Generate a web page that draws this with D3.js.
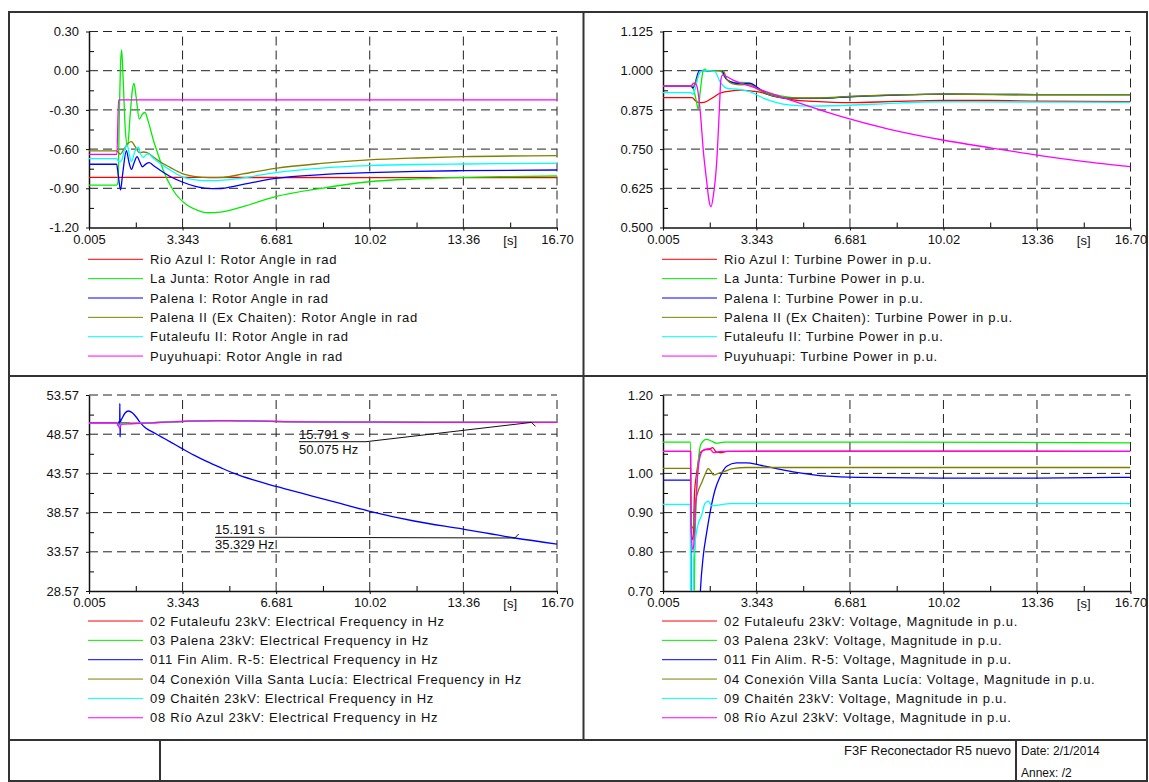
<!DOCTYPE html>
<html><head><meta charset="utf-8">
<script src="https://cdnjs.cloudflare.com/ajax/libs/d3/7.8.5/d3.min.js"></script>
<style>
body{margin:0;background:#fff;}
svg text{font-family:"Liberation Sans",Arial,sans-serif;fill:#111;}
</style></head><body>
<svg id="c" width="1149" height="782"></svg>
<script>
// ---------- DATA ----------
const timeTicks = [0.005, 3.343, 6.681, 10.02, 13.36, 16.70];
const timeLabels = ["0.005", "3.343", "6.681", "10.02", "13.36", "16.70"];

const angleTicks = [0.30, 0.00, -0.30, -0.60, -0.90, -1.20];
const angleLabels = ["0.30", "0.00", "-0.30", "-0.60", "-0.90", "-1.20"];
const powerTicks = [1.125, 1.000, 0.875, 0.750, 0.625, 0.500];
const powerLabels = ["1.125", "1.000", "0.875", "0.750", "0.625", "0.500"];
const freqTicks = [53.57, 48.57, 43.57, 38.57, 33.57, 28.57];
const freqLabels = ["53.57", "48.57", "43.57", "38.57", "33.57", "28.57"];
const voltTicks = [1.20, 1.10, 1.00, 0.90, 0.80, 0.70];
const voltLabels = ["1.20", "1.10", "1.00", "0.90", "0.80", "0.70"];

const seriesColors = ["#ff0000", "#00ee00", "#0000ff", "#808000", "#00ffff", "#ff00ff"];

const angleNames = ["Rio Azul I: Rotor Angle in rad", "La Junta: Rotor Angle in rad", "Palena I: Rotor Angle in rad",
  "Palena II (Ex Chaiten): Rotor Angle in rad", "Futaleufu II: Rotor Angle in rad", "Puyuhuapi: Rotor Angle in rad"];
const powerNames = ["Rio Azul I: Turbine Power in p.u.", "La Junta: Turbine Power in p.u.", "Palena I: Turbine Power in p.u.",
  "Palena II (Ex Chaiten): Turbine Power in p.u.", "Futaleufu II: Turbine Power in p.u.", "Puyuhuapi: Turbine Power in p.u."];
const freqNames = ["02 Futaleufu 23kV: Electrical Frequency in Hz", "03 Palena 23kV: Electrical Frequency in Hz",
  "011 Fin Alim. R-5: Electrical Frequency in Hz", "04 Conexión Villa Santa Lucía: Electrical Frequency in Hz",
  "09 Chaitén 23kV: Electrical Frequency in Hz", "08 Río Azul 23kV: Electrical Frequency in Hz"];
const voltNames = ["02 Futaleufu 23kV: Voltage, Magnitude in p.u.", "03 Palena 23kV: Voltage, Magnitude in p.u.",
  "011 Fin Alim. R-5: Voltage, Magnitude in p.u.", "04 Conexión Villa Santa Lucía: Voltage, Magnitude in p.u.",
  "09 Chaitén 23kV: Voltage, Magnitude in p.u.", "08 Río Azul 23kV: Voltage, Magnitude in p.u."];

// Rotor angle [s, rad]
const angRioAzul = [[0.005,-0.816],[1.0,-0.816],[4.0,-0.817],[16.70,-0.818]];
const angLaJunta = [[0.005,-0.875],[0.99,-0.875],[1.04,-0.85],[1.09,-0.3],[1.13,0.05],[1.17,0.16],[1.22,-0.05],[1.30,-0.45],[1.38,-0.58],[1.47,-0.35],[1.55,-0.15],[1.61,-0.097],[1.68,-0.19],[1.80,-0.37],[1.92,-0.33],[2.0,-0.32],[2.12,-0.39],[2.3,-0.53],[2.5,-0.66],[2.65,-0.76],[3.0,-0.913],[3.5,-1.028],[3.9,-1.07],[4.25,-1.087],[4.7,-1.083],[5.5,-1.04],[6.66,-0.964],[8.3,-0.9],[9.99,-0.85],[11.7,-0.828],[13.35,-0.816],[15.0,-0.81],[16.70,-0.806]];
const angPalenaI = [[0.005,-0.716],[0.99,-0.716],[1.05,-0.8],[1.13,-0.913],[1.2,-0.8],[1.34,-0.612],[1.43,-0.7],[1.52,-0.755],[1.62,-0.7],[1.72,-0.658],[1.82,-0.7],[1.91,-0.735],[2.03,-0.715],[2.15,-0.704],[2.3,-0.725],[2.53,-0.76],[2.9,-0.81],[3.31,-0.85],[3.8,-0.885],[4.2,-0.90],[4.6,-0.902],[5.5,-0.87],[6.66,-0.824],[8.3,-0.795],[9.99,-0.78],[11.7,-0.77],[13.35,-0.765],[16.70,-0.76]];
const angPalenaII = [[0.005,-0.614],[0.99,-0.614],[1.05,-0.625],[1.12,-0.64],[1.25,-0.6],[1.4,-0.555],[1.52,-0.543],[1.65,-0.58],[1.8,-0.627],[1.95,-0.622],[2.07,-0.627],[2.3,-0.66],[2.53,-0.696],[2.9,-0.74],[3.31,-0.785],[3.8,-0.81],[4.3,-0.818],[4.8,-0.816],[5.5,-0.79],[6.66,-0.747],[8.3,-0.71],[9.99,-0.683],[11.7,-0.668],[13.35,-0.658],[16.70,-0.65]];
const angFutaleufu = [[0.005,-0.673],[0.99,-0.673],[1.08,-0.7],[1.18,-0.68],[1.28,-0.6],[1.37,-0.569],[1.45,-0.65],[1.52,-0.696],[1.64,-0.62],[1.76,-0.586],[1.85,-0.64],[1.94,-0.663],[2.03,-0.645],[2.12,-0.637],[2.3,-0.67],[2.53,-0.709],[2.9,-0.76],[3.31,-0.811],[3.8,-0.835],[4.3,-0.842],[4.8,-0.838],[5.5,-0.82],[6.66,-0.78],[8.3,-0.745],[9.99,-0.727],[11.7,-0.718],[13.35,-0.714],[16.70,-0.709]];
const angPuyuhuapi = [[0.005,-0.64],[1.0,-0.64],[1.06,-0.224],[16.70,-0.224]];

// Turbine power [s, p.u.]
const powRioAzul = [[0.005,0.914],[1.05,0.914],[1.15,0.905],[1.3,0.898],[1.5,0.9],[1.75,0.912],[2.04,0.928],[2.4,0.935],[2.75,0.938],[3.35,0.933],[4.0,0.92],[4.66,0.907],[5.4,0.902],[6.66,0.898],[8.3,0.902],[9.99,0.905],[11.7,0.905],[13.35,0.903],[16.70,0.901]];
const powLaJunta = [[0.005,0.951],[1.0,0.951],[1.1,0.94],[1.2,0.9],[1.26,0.877],[1.33,0.93],[1.44,1.0],[1.5,1.005],[1.58,0.998],[1.8,1.0],[2.05,1.0],[2.2,0.981],[2.4,0.965],[2.6,0.962],[2.9,0.963],[3.1,0.96],[3.3,0.95],[3.7,0.93],[4.2,0.92],[4.94,0.912],[5.5,0.913],[6.66,0.917],[8.3,0.922],[9.99,0.925],[13.35,0.923],[16.70,0.923]];
const powPalenaI = [[0.005,0.951],[1.0,0.951],[1.08,0.945],[1.15,0.96],[1.3,1.0],[2.1,1.0],[2.25,0.975],[2.4,0.965],[2.75,0.958],[3.1,0.96],[3.4,0.945],[3.7,0.926],[4.5,0.912],[5.7,0.912],[6.66,0.917],[8.3,0.922],[9.99,0.925],[13.35,0.924],[16.70,0.924]];
const powPalenaII = [[0.005,0.951],[1.0,0.951],[1.1,0.95],[1.2,0.97],[1.35,0.998],[1.5,1.0],[2.15,1.0],[2.3,0.97],[2.5,0.958],[2.8,0.955],[3.1,0.956],[3.4,0.94],[3.8,0.923],[4.5,0.913],[5.7,0.913],[6.66,0.918],[8.3,0.923],[9.99,0.925],[13.35,0.924],[16.70,0.924]];
const powFutaleufu = [[0.005,0.93],[1.0,0.93],[1.08,0.925],[1.15,0.94],[1.33,0.997],[1.56,1.0],[1.86,0.997],[2.04,0.965],[2.28,0.944],[2.75,0.94],[3.1,0.933],[3.6,0.912],[4.5,0.891],[5.36,0.887],[7.5,0.893],[9.99,0.901],[13.35,0.9],[16.70,0.899]];
const powPuyuhuapi = [[0.005,0.951],[1.0,0.951],[1.1,0.96],[1.2,0.955],[1.33,0.875],[1.45,0.74],[1.56,0.651],[1.66,0.58],[1.72,0.566],[1.8,0.6],[1.92,0.705],[2.02,0.88],[2.07,0.97],[2.13,0.986],[2.51,0.97],[3.34,0.944],[4.53,0.907],[6.32,0.855],[8.1,0.813],[9.99,0.779],[11.7,0.754],[13.35,0.731],[15.0,0.711],[16.70,0.694]];

// Electrical frequency [s, Hz]
const frqFutaleufu = [[0.005,50.03],[1.0,50.03],[1.08,49.85],[1.14,50.05],[1.5,49.95],[2.0,50.0],[3.0,50.15],[4.0,50.27],[5.0,50.3],[6.0,50.25],[7.0,50.18],[9.0,50.12],[12.0,50.09],[15.79,50.075],[16.70,50.07]];
const frqPalena = [[0.005,50.03],[1.0,50.03],[1.08,49.8],[1.14,50.05],[1.5,49.95],[2.0,50.0],[3.0,50.15],[4.0,50.27],[5.0,50.3],[6.0,50.25],[7.0,50.18],[9.0,50.12],[12.0,50.09],[15.79,50.075],[16.70,50.07]];
const frqFinAlim = [[0.005,50.03],[1.0,50.03],[1.04,49.7],[1.08,50.2],[1.10,50.1],[1.105,52.5],[1.115,48.2],[1.125,50.1],[1.2,50.7],[1.3,51.3],[1.41,51.53],[1.55,51.3],[1.68,50.8],[1.82,50.1],[1.95,49.6],[2.04,49.32],[2.3,48.8],[2.6,48.2],[2.95,47.5],[3.31,46.77],[3.75,45.9],[4.2,45.1],[4.7,44.3],[5.18,43.57],[5.9,42.7],[6.68,41.9],[7.9,40.75],[9.0,39.7],[9.99,38.77],[11.6,37.5],[13.35,36.47],[15.19,35.33],[16.70,34.56]];
const frqConexion = [[0.005,50.03],[1.0,50.03],[1.08,49.75],[1.14,50.05],[1.5,49.95],[2.0,50.0],[3.0,50.15],[4.0,50.27],[5.0,50.3],[6.0,50.25],[7.0,50.18],[9.0,50.12],[12.0,50.09],[15.79,50.075],[16.70,50.07]];
const frqChaiten = [[0.005,50.03],[1.0,50.03],[1.09,49.6],[1.15,49.9],[1.5,49.92],[2.0,50.0],[3.0,50.15],[4.0,50.27],[5.0,50.3],[6.0,50.25],[7.0,50.18],[9.0,50.12],[12.0,50.09],[15.79,50.075],[16.70,50.07]];
const frqRioAzul = [[0.005,50.03],[1.0,50.03],[1.1,49.3],[1.16,49.85],[1.5,49.9],[2.0,49.98],[3.0,50.15],[4.0,50.27],[5.0,50.3],[6.0,50.25],[7.0,50.18],[9.0,50.12],[12.0,50.09],[15.79,50.075],[16.70,50.07]];

// Voltage magnitude [s, p.u.]
const vltFutaleufu = [[0.005,1.056],[0.99,1.056],[1.0,0.86],[1.08,0.83],[1.13,0.95],[1.21,1.002],[1.33,1.053],[1.5,1.06],[1.65,1.061],[1.78,1.066],[1.9,1.055],[2.05,1.053],[2.3,1.056],[5.0,1.057],[16.70,1.056]];
const vltPalena = [[0.005,1.08],[0.99,1.08],[1.0,0.6],[1.1,0.6],[1.14,0.8],[1.2,0.95],[1.28,1.04],[1.36,1.075],[1.56,1.087],[1.75,1.082],[1.92,1.077],[2.2,1.08],[8.0,1.08],[16.70,1.078]];
const vltFinAlim = [[0.005,0.983],[0.99,0.983],[1.0,0.6],[1.28,0.6],[1.34,0.70],[1.44,0.788],[1.56,0.847],[1.68,0.898],[1.86,0.957],[2.04,0.991],[2.28,1.018],[2.63,1.027],[2.99,1.027],[3.46,1.021],[4.65,1.004],[5.84,0.993],[7.03,0.99],[9.99,0.988],[13.35,0.988],[16.70,0.99]];
const vltConexion = [[0.005,1.013],[0.99,1.013],[1.0,0.87],[1.08,0.86],[1.12,0.90],[1.18,0.932],[1.27,0.957],[1.39,0.977],[1.5,0.996],[1.62,1.012],[1.72,1.005],[1.8,0.996],[1.98,1.0],[2.2,1.005],[2.5,1.012],[3.0,1.015],[16.70,1.015]];
const vltChaiten = [[0.005,0.921],[0.98,0.921],[0.99,0.6],[1.09,0.6],[1.1,0.78],[1.2,0.85],[1.27,0.873],[1.39,0.894],[1.5,0.923],[1.63,0.929],[1.74,0.917],[1.98,0.919],[2.4,0.923],[16.70,0.923]];
const vltRioAzul = [[0.005,1.056],[0.99,1.056],[1.0,0.87],[1.08,0.804],[1.17,0.915],[1.27,1.017],[1.39,1.055],[1.5,1.061],[1.66,1.063],[1.82,1.053],[2.05,1.056],[16.70,1.056]];

// Cursor annotations (time s, value)
const annTimes = [15.791, 15.191];
const annValues = [50.075, 35.329];
const annLabels = [["15.791 s", "50.075 Hz"], ["15.191 s", "35.329 Hz"]];

const footerTitle = "F3F Reconectador R5 nuevo";
const footerDate = "Date: 2/1/2014";
const footerAnnex = "Annex:  /2";

// ---------- LAYOUT ----------
const svg = d3.select("#c");
const panels = [
  {x0:89, x1:557, y0:31.5, y1:227.5, legY:259.3, dom:[-1.20,0.30], ticks:angleTicks, labels:angleLabels, series:[angRioAzul,angLaJunta,angPalenaI,angPalenaII,angFutaleufu,angPuyuhuapi], names:angleNames},
  {x0:663, x1:1130.5, y0:31.5, y1:227.5, legY:259.3, dom:[0.500,1.125], ticks:powerTicks, labels:powerLabels, series:[powRioAzul,powLaJunta,powPalenaI,powPalenaII,powFutaleufu,powPuyuhuapi], names:powerNames},
  {x0:89, x1:557, y0:395, y1:591, legY:621, dom:[28.57,53.57], ticks:freqTicks, labels:freqLabels, series:[frqFutaleufu,frqPalena,frqFinAlim,frqConexion,frqChaiten,frqRioAzul], names:freqNames, ann:true},
  {x0:663, x1:1130.5, y0:395, y1:591, legY:621, dom:[0.70,1.20], ticks:voltTicks, labels:voltLabels, series:[vltFutaleufu,vltPalena,vltFinAlim,vltConexion,vltChaiten,vltRioAzul], names:voltNames}
];

// frame
const frame = svg.append("g").attr("stroke","#333").attr("stroke-width",2).attr("fill","none");
frame.append("rect").attr("x",9).attr("y",12).attr("width",1138).attr("height",769);
frame.append("line").attr("x1",583.5).attr("x2",583.5).attr("y1",12).attr("y2",740);
frame.append("line").attr("x1",9).attr("x2",1147).attr("y1",376).attr("y2",376);
frame.append("line").attr("x1",9).attr("x2",1147).attr("y1",740).attr("y2",740);
frame.append("line").attr("x1",160).attr("x2",160).attr("y1",740).attr("y2",781);
frame.append("line").attr("x1",1016).attr("x2",1016).attr("y1",740).attr("y2",781);

svg.append("text").attr("x",1011).attr("y",755).attr("text-anchor","end").attr("font-size",13).text(footerTitle);
svg.append("text").attr("x",1021).attr("y",755).attr("font-size",12).text(footerDate);
svg.append("text").attr("x",1021).attr("y",777).attr("font-size",12).text(footerAnnex);

panels.forEach((p, pi) => {
  const x = d3.scaleLinear().domain([timeTicks[0], timeTicks[timeTicks.length-1]]).range([p.x0, p.x1]);
  const y = d3.scaleLinear().domain(p.dom).range([p.y1, p.y0]);
  const g = svg.append("g");
  const cid = "clip" + pi;
  g.append("clipPath").attr("id", cid).append("rect")
    .attr("x", p.x0).attr("y", p.y0).attr("width", p.x1 - p.x0).attr("height", p.y1 - p.y0);

  // dashed grid
  const grid = g.append("g").attr("stroke","#222").attr("stroke-width",1).attr("stroke-dasharray","9,5");
  timeTicks.slice(1).forEach(t => grid.append("line").attr("x1",x(t)).attr("x2",x(t)).attr("y1",p.y1).attr("y2",p.y0));
  p.ticks.forEach(v => { if (v !== p.dom[0]) grid.append("line").attr("x1",p.x0).attr("x2",p.x1).attr("y1",y(v)).attr("y2",y(v)); });

  // minor ticks
  const xMinor = d3.pairs(timeTicks).map(d => (d[0]+d[1])/2);
  const yMinor = d3.pairs(p.ticks).map(d => (d[0]+d[1])/2);
  g.append("g").attr("transform",`translate(0,${p.y1})`)
    .call(d3.axisBottom(x).tickValues(xMinor).tickSize(-5).tickFormat(""))
    .call(a => a.select(".domain").remove());
  g.append("g").attr("transform",`translate(${p.x0},0)`)
    .call(d3.axisLeft(y).tickValues(yMinor).tickSize(-5).tickFormat(""))
    .call(a => a.select(".domain").remove());

  // axes
  const xa = g.append("g").attr("transform",`translate(0,${p.y1})`)
    .call(d3.axisBottom(x).tickValues(timeTicks).tickSize(3).tickPadding(4).tickSizeOuter(0)
      .tickFormat((d,i) => timeLabels[i]));
  const ya = g.append("g").attr("transform",`translate(${p.x0},0)`)
    .call(d3.axisLeft(y).tickValues(p.ticks).tickSize(3).tickPadding(7).tickSizeOuter(0)
      .tickFormat((d,i) => p.labels[i]));
  [xa, ya].forEach(a => {
    a.selectAll("text").attr("font-size",13).attr("font-family","Liberation Sans, Arial, sans-serif").attr("fill","#111");
    a.selectAll("line").attr("stroke","#111");
    a.select(".domain").attr("stroke","#111").attr("stroke-width",1.5);
  });
  g.append("text").attr("x", (x(timeTicks[4]) + x(timeTicks[5]))/2 + 0).attr("y", p.y1 + 17)
    .attr("text-anchor","middle").attr("font-size",13).text("[s]");

  // series
  const line = d3.line().x(d => x(d[0])).y(d => y(d[1])).curve(d3.curveMonotoneX);
  const sg = g.append("g").attr("clip-path", `url(#${cid})`);
  p.series.forEach((s, i) => {
    sg.append("path").attr("d", line(s)).attr("fill","none")
      .attr("stroke", seriesColors[i]).attr("stroke-width",1.3);
  });

  // legend
  const lg = g.append("g");
  p.names.forEach((n, i) => {
    const ly = p.legY + i * 19.35;
    lg.append("line").attr("x1", p.x0 - 1).attr("x2", p.x0 + 54).attr("y1", ly).attr("y2", ly)
      .attr("stroke", seriesColors[i]).attr("stroke-width", 1);
    lg.append("text").attr("x", p.x0 + 61).attr("y", ly).attr("dy","0.35em")
      .attr("font-size",13).attr("letter-spacing","0.7px").text(n);
  });

  // cursor annotations
  if (p.ann) {
    const textX = [299, 215];
    const lineY = [441.7, 537.3];
    const textW = [67, 65];
    annTimes.forEach((t, k) => {
      const px = x(t), py = y(annValues[k]);
      g.append("path").attr("fill","none").attr("stroke","#111").attr("stroke-width",1)
        .attr("d", `M${textX[k]},${lineY[k]}L${textX[k]+textW[k]},${lineY[k]}L${px},${py}`);
      g.append("path").attr("fill","none").attr("stroke","#111").attr("stroke-width",1)
        .attr("d", k === 0 ? `M${px},${py}l4,4` : `M${px},${py}l4,-4`);
      g.append("text").attr("x", textX[k]).attr("y", lineY[k] - 3).attr("font-size",13).text(annLabels[k][0]);
      g.append("text").attr("x", textX[k]).attr("y", lineY[k] + 12).attr("font-size",13).text(annLabels[k][1]);
    });
  }
});
</script>
</body></html>
